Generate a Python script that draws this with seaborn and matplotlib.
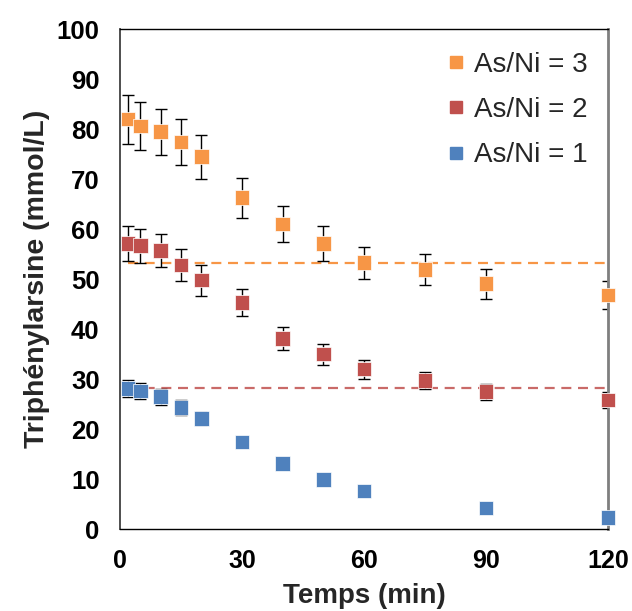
import matplotlib
matplotlib.use('Agg')
import numpy as np
import pandas as pd
import matplotlib.pyplot as plt
import seaborn as sns
from matplotlib.lines import Line2D

# Donnees
temps_3 = [2, 5, 10, 15, 20, 30, 40, 50, 60, 75, 90, 120]
conc_3 = [82.0, 80.6, 79.5, 77.4, 74.5, 66.3, 61.0, 57.1, 53.3, 51.9, 49.1, 46.8]
err_3 = [4.9, 4.8, 4.6, 4.6, 4.4, 4.0, 3.6, 3.5, 3.2, 3.1, 3.0, 2.8]

temps_2 = [2, 5, 10, 15, 20, 30, 40, 50, 60, 75, 90, 120]
conc_2 = [57.1, 56.7, 55.7, 52.8, 49.8, 45.3, 38.1, 35.0, 32.0, 29.7, 27.5, 25.8]
err_2 = [3.5, 3.4, 3.3, 3.2, 3.1, 2.7, 2.3, 2.1, 1.9, 1.7, 1.6, 1.6]

temps_1 = [2, 5, 10, 15, 20, 30, 40, 50, 60, 90, 120]
conc_1 = [28.1, 27.6, 26.5, 24.3, 22.1, 17.4, 13.1, 9.9, 7.6, 4.2, 2.3]
err_1 = [1.7, 1.65, 1.6, 1.45, 1.3, 1.0, 0.8, 0.6, 0.45, 0.25, 0.15]

labels = ['As/Ni = 3', 'As/Ni = 2', 'As/Ni = 1']
couleurs = ['#F79646', '#C0504D', '#4F81BD']

# paliers (lignes pointillees)
palier_val = [53.3, 28.3]
palier_debut = 2
palier_fin = 120

series = [(temps_3, conc_3, err_3), (temps_2, conc_2, err_2), (temps_1, conc_1, err_1)]
df = pd.concat([pd.DataFrame({'t': t, 'c': c, 'err': e, 'ratio': lab})
                for (t, c, e), lab in zip(series, labels)], ignore_index=True)

sns.set_style('white')
plt.rcParams['font.family'] = ['Liberation Sans', 'DejaVu Sans']

fig = plt.figure(figsize=(6.32, 6.11), dpi=100)
ax = fig.add_axes([0.190, 0.1342, 0.772, 0.8183])

# lignes pointillees
ax.hlines(palier_val[0], palier_debut, palier_fin, colors=couleurs[0],
          linestyles=(0, (4.5, 3)), lw=1.6, zorder=1)
ax.hlines(palier_val[1], palier_debut, palier_fin, colors=couleurs[1],
          linestyles=(0, (4.5, 3)), lw=1.6, alpha=0.85, zorder=1)

# barres d'erreur
for lab in labels:
    d = df[df['ratio'] == lab]
    ax.errorbar(d['t'], d['c'], yerr=d['err'], fmt='none', ecolor='black',
                elinewidth=1, capsize=4, capthick=1, zorder=2)

sns.scatterplot(data=df, x='t', y='c', hue='ratio', palette=dict(zip(labels, couleurs)),
                marker='s', s=110, edgecolor='white', linewidth=0.5, legend=False,
                ax=ax, zorder=3, clip_on=False)

ax.set_xlim(0, 120)
ax.set_ylim(0, 100)
ax.set_xticks([0, 30, 60, 90, 120])
ax.set_yticks(np.arange(0, 101, 10))
ax.tick_params(direction='inout', length=11.5, width=1, pad=9, colors='black')
ax.tick_params(axis='x', labelsize=18)
ax.tick_params(axis='y', labelsize=18.5)
for lbl in ax.get_xticklabels() + ax.get_yticklabels():
    lbl.set_fontweight('bold')

ax.set_xlabel('Temps (min)', fontsize=20, fontweight='bold', labelpad=7)
ax.set_ylabel('Triphénylarsine (mmol/L)', fontsize=20.5, fontweight='bold', labelpad=5)

for s in ['top', 'bottom']:
    ax.spines[s].set_color('black')
    ax.spines[s].set_linewidth(1)
ax.spines['left'].set_color('#404040')
ax.spines['left'].set_linewidth(1.3)
ax.spines['right'].set_color('#7f7f7f')
ax.spines['right'].set_linewidth(2)

handles = [Line2D([], [], marker='s', ls='none', color=c, markersize=9) for c in couleurs]
ax.legend(handles, labels, loc='upper right', bbox_to_anchor=(1.01, 1.005),
          frameon=False, fontsize=20, handlelength=0.7, handletextpad=0.3,
          labelspacing=0.7)

fig.savefig('out.png', dpi=100)
